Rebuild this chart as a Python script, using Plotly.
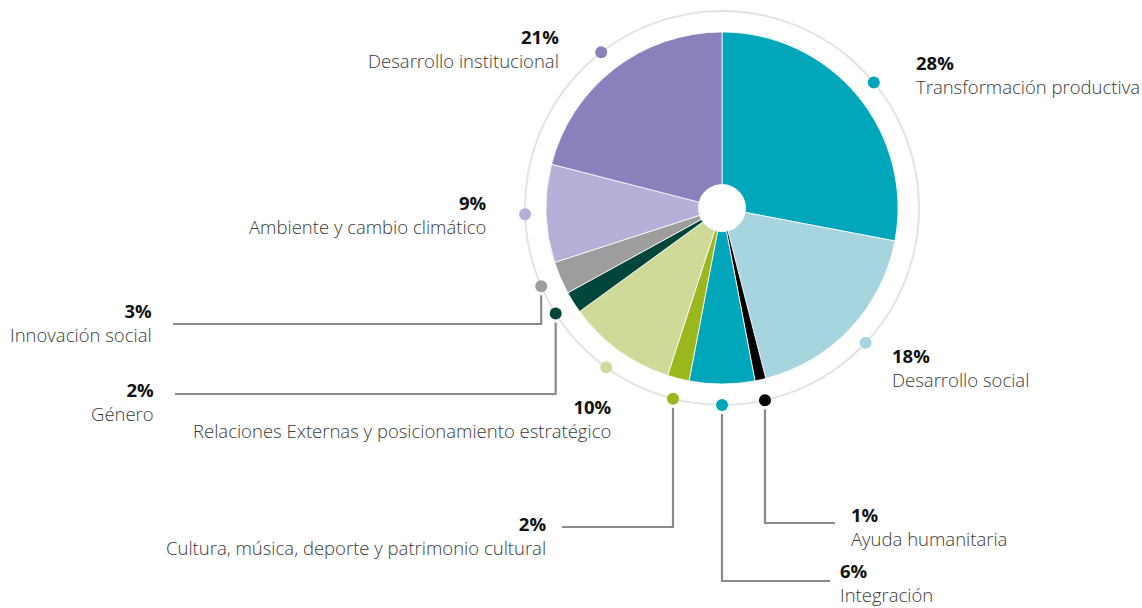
import math
import plotly.graph_objects as go

categories = ['Transformación productiva', 'Desarrollo social', 'Ayuda humanitaria', 'Integración',
              'Cultura, música, deporte y patrimonio cultural',
              'Relaciones Externas y posicionamiento estratégico', 'Género', 'Innovación social',
              'Ambiente y cambio climático', 'Desarrollo institucional']
shares = [28, 18, 1, 6, 2, 10, 2, 3, 9, 21]
colors = ['#00a6b9', '#a6d5e0', '#000000', '#00a6b9', '#9bb71e',
          '#cfd998', '#00463a', '#9d9d9d', '#b6b0d9', '#8980bc']

# page geometry (px)
W, H = 1142, 608
CX, CY, R = 722, 208, 176
RING = 197

# label placement: x, y of the percent line, anchor, leader (elbow y, end x) or None
label_pos = [
    (915, 64, 'left', None),
    (891, 357, 'left', None),
    (850, 516, 'left', (523, 835)),
    (839, 572, 'left', (581, 830)),
    (547, 525, 'right', (527, 562)),
    (613, 408, 'right', None),
    (155, 391, 'right', (394, 175)),
    (153, 312, 'right', (324, 173)),
    (488, 204, 'right', None),
    (560, 38, 'right', None),
]

fig = go.Figure()

fig.add_trace(go.Pie(
    labels=categories, values=shares, sort=False, direction='clockwise', rotation=0,
    hole=0.134, textinfo='none', hoverinfo='label+percent',
    marker=dict(colors=colors, line=dict(color='white', width=0.8)),
    domain=dict(x=[(CX - R) / W, (CX + R) / W], y=[(H - CY - R) / H, (H - CY + R) / H]),
    showlegend=False,
))

# dots on the outer ring at each slice's mid angle
total = sum(shares)
dot_x, dot_y = [], []
cum = 0
for v in shares:
    a = 2 * math.pi * (cum + v / 2) / total
    dot_x.append(CX + RING * math.sin(a))
    dot_y.append(CY - RING * math.cos(a))
    cum += v

# leader lines
for i, (lx, ly, anc, leader) in enumerate(label_pos):
    if leader is None:
        continue
    ey, ex = leader
    fig.add_trace(go.Scatter(
        x=[dot_x[i], dot_x[i], ex], y=[dot_y[i] + 9, ey, ey], mode='lines',
        line=dict(color='#8a8a8a', width=2.2), hoverinfo='skip', showlegend=False))

fig.add_trace(go.Scatter(
    x=dot_x, y=dot_y, mode='markers', marker=dict(color=colors, size=12),
    hoverinfo='skip', showlegend=False))

fig.add_shape(type='circle', xref='x', yref='y', x0=CX - RING, x1=CX + RING, y0=CY - RING, y1=CY + RING,
              line=dict(color='#e3e3e3', width=2), layer='below')

for cat, v, (lx, ly, anc, leader) in zip(categories, shares, label_pos):
    fig.add_annotation(
        x=lx, y=ly - 15, text=f'<span style="color:#111111"><b>{v}%</b></span><br>{cat}',
        showarrow=False, xanchor=anc, yanchor='top', align=anc, borderpad=0,
        font=dict(family='Open Sans', size=18.5, color='#3a3a3a', weight=300))

fig.update_layout(
    width=W, height=H, margin=dict(l=0, r=0, t=0, b=0),
    paper_bgcolor='white', plot_bgcolor='white',
    xaxis=dict(range=[0, W], visible=False, fixedrange=True),
    yaxis=dict(range=[H, 0], visible=False, fixedrange=True),
)

# drop the default body margin so the figure fills the window exactly
fig.write_html('out.html', config={'displayModeBar': False},
               post_script="document.body.style.margin='0';document.body.style.overflow='hidden';")
